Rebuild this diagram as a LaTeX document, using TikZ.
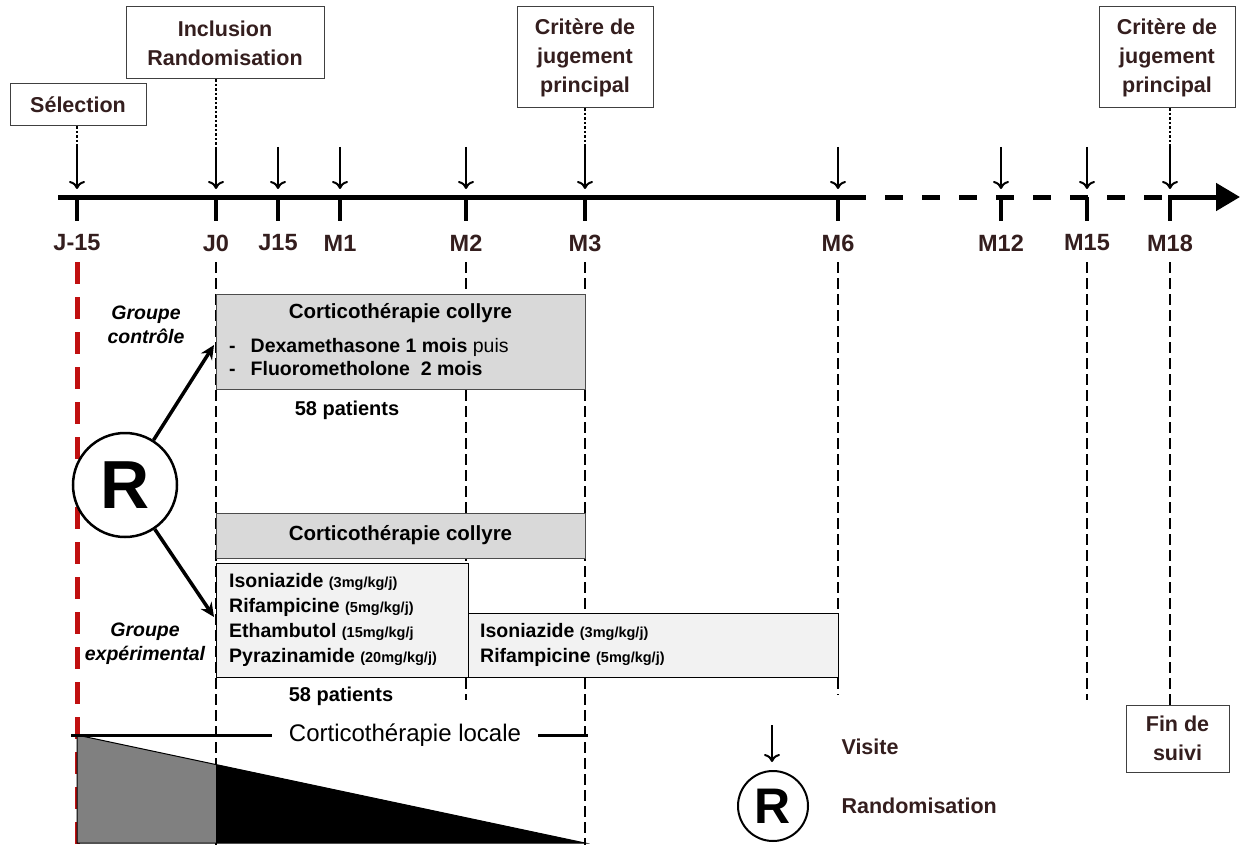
\documentclass[tikz,border=0pt]{standalone}
\usepackage{fontspec}
\setmainfont{Liberation Sans}
\usetikzlibrary{positioning, arrows.meta}

\definecolor{inkbrown}{RGB}{52,30,30}
\definecolor{collyrefill}{RGB}{217,217,217}
\definecolor{drugfill}{RGB}{242,242,242}
\definecolor{selred}{RGB}{192,16,16}
\definecolor{taperfill}{RGB}{128,128,128}

\newcommand{\dosage}[1]{{\fontsize{14.5}{16}\selectfont #1}}

\begin{document}
\begin{tikzpicture}[x=1pt, y=-1pt,
  milestone/.style={draw=black!75, line width=1pt, fill=white, align=center, inner sep=0pt, text=inkbrown, font=\bfseries\fontsize{21.5}{29}\selectfont},
  timelabel/.style={text=inkbrown, font=\bfseries\fontsize{23.5}{28}\selectfont},
  legendtext/.style={anchor=west, text=inkbrown, font=\bfseries\fontsize{21.5}{26}\selectfont},
  visit/.style={-{To[length=8pt,width=16pt]}, line width=2pt, shorten >=8pt},
  tick/.style={line width=4pt},
  linker/.style={line width=2.5pt, dash pattern=on 2.5pt off 2pt},
  guide/.style={line width=1.6pt, dash pattern=on 11pt off 5pt},
  collyre/.style={draw=black!70, line width=1pt, fill=collyrefill, inner sep=0pt},
  drug/.style={draw=black, line width=1pt, fill=drugfill, inner sep=0pt},
  boxtitle/.style={font=\bfseries\fontsize{20.5}{25}\selectfont},
  drugtext/.style={align=left, anchor=west, inner sep=0pt, font=\bfseries\fontsize{19.5}{24.7}\selectfont},
  count/.style={font=\bfseries\fontsize{20}{24}\selectfont},
  group/.style={align=center, font=\bfseries\itshape\fontsize{19.5}{24}\selectfont},
  branch/.style={-{Stealth[length=14pt,width=13pt]}, line width=3.5pt},
  randcircle/.style={draw, circle, inner sep=0pt}
]

\useasboundingbox (0,0) rectangle (1241,845);

% guides
\foreach \xpos/\yend in {216/845, 466/700, 585/845, 838/695, 1087/700, 1170/705}
  \draw[guide] (\xpos,262) -- (\xpos,\yend);
\draw[selred, line width=5pt, dash pattern=on 22pt off 13pt] (77,262) -- (77,845);

% timeline
\draw[line width=5pt] (58,197) -- (866,197);
\draw[line width=5pt, dash pattern=on 18pt off 19pt] (885,197) -- (1170,197);
\draw[line width=5pt, -{Triangle[length=24pt,width=27pt]}] (1168,197) -- (1240,197);

\foreach \xpos/\name/\lab in {77/jm15/J-15, 216/j0/J0, 278/j15/J15, 340/m1/M1, 466/m2/M2, 585/m3/M3, 838/m6/M6, 1001/m12/M12, 1087/m15/M15, 1170/m18/M18} {
  \coordinate (\name) at (\xpos,197);
  \coordinate (top\name) at (\xpos,147);
  \draw[tick] (\name) -- ++(0,24);
  \draw[visit] (top\name) -- (\name);
  \node[timelabel] (lab\name) at (\xpos,243) {\lab};
}

\node[milestone, minimum width=136pt, minimum height=42pt] (sel) at (78,105) {Sélection};
\node[milestone, minimum width=198pt, minimum height=72pt] (incl) at (225,43) {Inclusion\\Randomisation};
\node[milestone, minimum width=136pt, minimum height=101pt] (crit) at (585,57.5) {Critère de\\jugement\\principal};
\node[milestone, minimum width=136pt, minimum height=101pt] (critfin) at (1167,57.5) {Critère de\\jugement\\principal};

\draw[linker] (sel.south -| topjm15) -- (topjm15);
\draw[linker] (incl.south -| topj0) -- (topj0);
\draw[linker] (crit.south -| topm3) -- (topm3);
\draw[linker] (critfin.south -| topm18) -- (topm18);

% groupe controle
\node[collyre, minimum width=369pt, minimum height=95pt] (ctrl) at (400.5,341.5) {};
\node[boxtitle] (ctrltitle) at (400.5,313) {Corticothérapie collyre};
\node[drugtext] (dexa) at (229,347) {-\hspace{15pt}Dexamethasone 1 mois {\mdseries puis}};
\node[drugtext] (fluoro) at (229,369) {-\hspace{15pt}Fluorometholone\ \ 2 mois};
\node[count] (ctrlcount) at (347,410) {58 patients};

% groupe experimental
\node[collyre, boxtitle, minimum width=369pt, minimum height=45pt] (expcol) at (400.5,535.5) {Corticothérapie collyre};
\node[drug, minimum width=252pt, minimum height=114pt] (quad) at (342,620) {};
\node[drugtext] (quadtext) at (229,620) {Isoniazide \dosage{(3mg/kg/j)}\\Rifampicine \dosage{(5mg/kg/j)}\\Ethambutol \dosage{(15mg/kg/j}\\Pyrazinamide \dosage{(20mg/kg/j)}};
\node[drug, minimum width=370pt, minimum height=64pt] (duo) at (653,645) {};
\node[drugtext] (duotext) at (480,645) {Isoniazide \dosage{(3mg/kg/j)}\\Rifampicine \dosage{(5mg/kg/j)}};
\node[count] (expcount) at (341,696) {58 patients};

% randomisation
\node[randcircle, fill=white, line width=2.5pt, minimum size=104pt, font=\bfseries\fontsize{68}{68}\selectfont] (rand) at (125,485) {R};
\coordinate (ctrlin) at (214,345);
\coordinate (expin) at (214,617);
\draw[branch] (rand) -- (ctrlin);
\draw[branch] (rand) -- (expin);
\node[group] (ctrlgroup) at (146,325) {Groupe\\contrôle};
\node[group] (expgroup) at (145,644) {Groupe\\expérimental};

% corticotherapie locale
\fill[taperfill] (77,735) -- (216,764.5) -- (216,843) -- (77,843) -- cycle;
\fill (216,764.5) -- (585,843) -- (216,843) -- cycle;
\draw[line width=1pt] (77,843) -- (77,735) -- (585,843) -- cycle;
\node[font=\fontsize{24}{29}\selectfont, inner xsep=17pt] (locale) at (405,735) {Corticothérapie locale};
\draw[line width=3pt] (71,735) -- (locale.west);
\draw[line width=3pt] (locale.east) -- (588,735);

\node[milestone, minimum width=103pt, minimum height=67pt] (fin) at (1177.5,738.5) {Fin de\\suivi};

% legende
\coordinate (legtop) at (772,725);
\coordinate (legbot) at (772,770);
\draw[visit] (legtop) -- (legbot);
\node[legendtext] (legvisit) at (838,747) {Visite};
\node[randcircle, line width=2pt, minimum size=70pt, font=\bfseries\fontsize{50}{50}\selectfont] (legrand) at (773,806) {R};
\node[legendtext] (legrandtext) at (838,806) {Randomisation};

\end{tikzpicture}
\end{document}
